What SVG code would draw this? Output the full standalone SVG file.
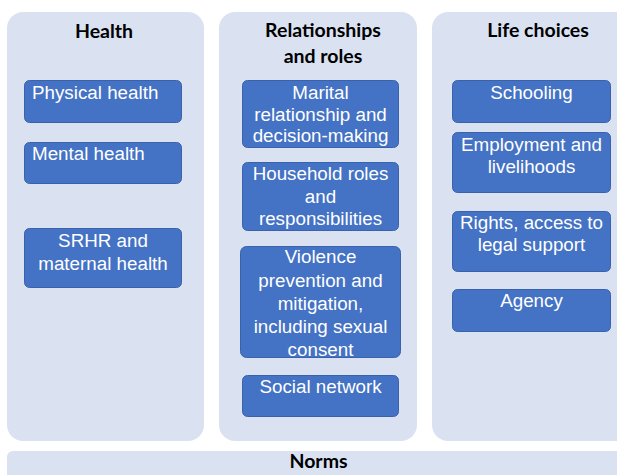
<svg xmlns="http://www.w3.org/2000/svg" width="617" height="475" viewBox="0 0 617 475">
  <style>
    .panel { fill: #DAE2F2; }
    .box { fill: #4472C4; stroke: #3A62AC; stroke-width: 1; }
    .head { font-family: Lato, "Liberation Sans", sans-serif; font-weight: bold; font-size: 19.5px; fill: #000; text-anchor: middle; }
    .lbl { font-family: "Liberation Sans", Arial, sans-serif; font-size: 18.8px; fill: #fff; text-anchor: middle; }
    .left { text-anchor: start; }
  </style>

  <rect width="617" height="475" fill="#fff"/>

  <!-- Health column -->
  <g id="health">
    <rect class="panel" x="7" y="12" width="197" height="429" rx="16"/>
    <text class="head" x="104" y="38">Health</text>
  </g>
  <g id="physical-health">
    <rect class="box" x="24.5" y="80.5" width="157" height="42" rx="5"/>
    <text class="lbl left" x="32" y="99">Physical health</text>
  </g>
  <g id="mental-health">
    <rect class="box" x="24.5" y="142.5" width="157" height="41" rx="5"/>
    <text class="lbl left" x="32" y="160">Mental health</text>
  </g>
  <g id="srhr">
    <rect class="box" x="24.5" y="228.5" width="157" height="59" rx="5"/>
    <text class="lbl" x="103" y="247">SRHR and</text>
    <text class="lbl" x="103" y="270">maternal health</text>
  </g>

  <!-- Relationships and roles column -->
  <g id="relationships">
    <rect class="panel" x="219" y="12" width="198" height="429" rx="16"/>
    <text class="head" x="323" y="37">Relationships</text>
    <text class="head" x="323" y="63">and roles</text>
  </g>
  <g id="marital">
    <rect class="box" x="242.5" y="80.5" width="156" height="67" rx="5"/>
    <text class="lbl" x="320.5" y="99">Marital</text>
    <text class="lbl" x="320.5" y="121">relationship and</text>
    <text class="lbl" x="320.5" y="142">decision-making</text>
  </g>
  <g id="household">
    <rect class="box" x="242.5" y="162.5" width="156" height="68" rx="5"/>
    <text class="lbl" x="320.5" y="180">Household roles</text>
    <text class="lbl" x="320.5" y="203">and</text>
    <text class="lbl" x="320.5" y="225">responsibilities</text>
  </g>
  <g id="violence">
    <rect class="box" x="240.5" y="246.5" width="160" height="111" rx="6"/>
    <text class="lbl" x="320.5" y="263">Violence</text>
    <text class="lbl" x="320.5" y="287">prevention and</text>
    <text class="lbl" x="320.5" y="310">mitigation,</text>
    <text class="lbl" x="320.5" y="333">including sexual</text>
    <text class="lbl" x="320.5" y="356">consent</text>
  </g>
  <g id="social-network">
    <rect class="box" x="242.5" y="375.5" width="156" height="41" rx="5"/>
    <text class="lbl" x="320.5" y="393">Social network</text>
  </g>

  <!-- Life choices column -->
  <g id="life-choices">
    <rect class="panel" x="432" y="12" width="200" height="429" rx="16"/>
    <text class="head" x="538" y="37">Life choices</text>
  </g>
  <g id="schooling">
    <rect class="box" x="452.5" y="80.5" width="158" height="42" rx="5"/>
    <text class="lbl" x="531.5" y="99">Schooling</text>
  </g>
  <g id="employment">
    <rect class="box" x="452.5" y="132.5" width="158" height="60" rx="5"/>
    <text class="lbl" x="531.5" y="151">Employment and</text>
    <text class="lbl" x="531.5" y="173">livelihoods</text>
  </g>
  <g id="rights">
    <rect class="box" x="452.5" y="211.5" width="158" height="60" rx="5"/>
    <text class="lbl" x="531.5" y="229">Rights, access to</text>
    <text class="lbl" x="531.5" y="251">legal support</text>
  </g>
  <g id="agency">
    <rect class="box" x="452.5" y="289.5" width="158" height="42" rx="5"/>
    <text class="lbl" x="531.5" y="307">Agency</text>
  </g>

  <!-- Norms band along the bottom -->
  <g id="norms">
    <rect class="panel" x="7" y="451" width="630" height="40" rx="6"/>
    <text class="head" x="318.5" y="468">Norms</text>
  </g>

  <g id="connectors"/>
</svg>
